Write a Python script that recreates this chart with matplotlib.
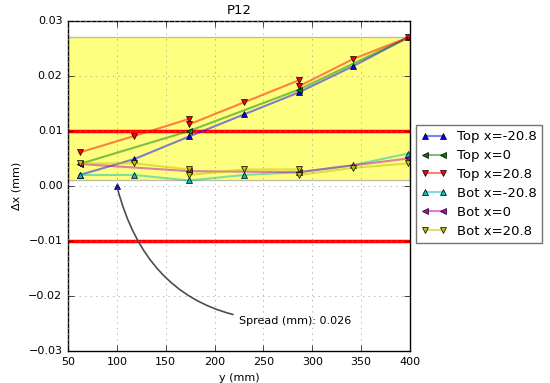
import matplotlib
matplotlib.use('Agg')
import matplotlib.pyplot as plt

plt.style.use('classic')
plt.rcParams['font.size'] = 8

# positions along y (mm)
y_all = [62, 118, 174, 230, 286, 342, 398]
y_mid = [62, 174, 286, 398]
y_dup = [62, 118, 174, 174, 230, 286, 286, 342, 398]

top_m208 = [0.002, 0.0049, 0.009, 0.013, 0.017, 0.0218, 0.027]
top_0 = [0.004, 0.010, 0.0175, 0.027]
top_p208 = [0.0061, 0.0091, 0.0122, 0.0112, 0.0152, 0.0192, 0.0181, 0.0231, 0.027]
bot_m208 = [0.002, 0.002, 0.001, 0.002, 0.0025, 0.0038, 0.0059]
bot_0 = [0.004, 0.0027, 0.0025, 0.005]
bot_p208 = [0.0041, 0.0041, 0.003, 0.002, 0.003, 0.003, 0.002, 0.0033, 0.0041]

series = [
    ('Top x=-20.8', y_all, top_m208, 'b', '^'),
    ('Top x=0', y_mid, top_0, 'g', '<'),
    ('Top x=20.8', y_dup, top_p208, 'r', 'v'),
    ('Bot x=-20.8', y_all, bot_m208, 'c', '^'),
    ('Bot x=0', y_mid, bot_0, 'm', '<'),
    ('Bot x=20.8', y_dup, bot_p208, 'y', 'v'),
]

spread = 0.026
band_lo, band_hi = 0.001, 0.027
tol = 0.01

fig = plt.figure(figsize=(5.5, 3.83), dpi=100, facecolor='white')
ax = fig.add_axes([0.1236, 0.0836, 0.6218, 0.8616])

ax.axhspan(band_lo, band_hi, facecolor='yellow', alpha=0.5, edgecolor='0.5', lw=1)
ax.axhline(tol, color='r', lw=2.5)
ax.axhline(-tol, color='r', lw=2.5)

for label, xs, ys, c, m in series:
    rgba = matplotlib.colors.to_rgba(c, 0.5)
    ax.plot(xs, ys, color=rgba, marker=m, markerfacecolor=c,
            markeredgecolor='k', markersize=5, lw=1.5, label=label)

# spread annotation
ax.plot([100], [0.0], 'b^', markersize=5)
ax.annotate('Spread (mm): %.3f' % spread, xy=(100, 0.0), xytext=(225, -0.0245),
            va='center', ha='left', fontsize=8,
            arrowprops=dict(arrowstyle='-', color='0.3', lw=1.2,
                            connectionstyle='arc3,rad=-0.4', shrinkA=2, shrinkB=2))

ax.set_xlim(50, 400)
ax.set_ylim(-0.03, 0.03)
ax.set_xticks(range(50, 401, 50))
ax.set_yticks([-0.03, -0.02, -0.01, 0.0, 0.01, 0.02, 0.03])
ax.grid(True, color='0.6')
ax.set_title('P12', fontsize=9.5)
ax.set_xlabel('y (mm)', fontsize=8)
ax.set_ylabel('\u0394x (mm)', fontsize=8)
ax.tick_params(labelsize=8)

leg = ax.legend(loc='upper left', bbox_to_anchor=(1.018, 0.685), borderaxespad=0,
                fontsize=9.5, numpoints=2, handlelength=1.9, labelspacing=0.45)
leg.get_frame().set_edgecolor('0.45')

fig.savefig('out.png', dpi=100, facecolor='white')
